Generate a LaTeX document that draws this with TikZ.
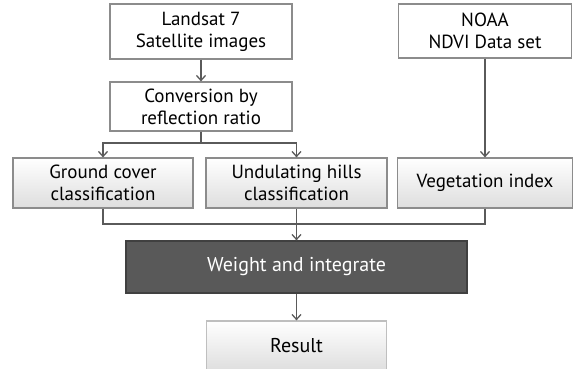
\documentclass[tikz,border=0pt]{standalone}
\usepackage{fontspec}
\setmainfont{PT Sans}
\usetikzlibrary{arrows.meta}
\definecolor{edgegrey}{HTML}{8C8C8C}
\definecolor{linegrey}{HTML}{5A5A5A}
\definecolor{darkgrey}{HTML}{595959}
\tikzset{
  x = 1pt, % one unit = one pixel of the page
  y = 1pt,
  box/.style = { % plain source box
    rectangle,
    draw = #1, % argument = edge colour
    fill = white,
    line width = 1.2pt,
    align = center,
    inner sep = 0pt, % size set by minimum width/height
    font = \fontsize{19}{22}\selectfont,
  },
  shadebox/.style = { % box with a light grey fade
    box = #1,
    top color = white,
    bottom color = black!13,
  },
  flow/.style = { % connector line
    draw = linegrey,
    line width = 1.5pt,
  },
  tip/.style = { % connector with open head
    flow,
    -{Straight Barb[length=5pt,width=9pt,line width=1.3pt]},
  },
}

\begin{document}
\begin{tikzpicture}
    \useasboundingbox (0,0) rectangle (578,-368); % page frame
    % source boxes
    \node[box=edgegrey, minimum width=182pt, minimum height=55pt] (land) at (201,-31.5) {Landsat 7\\Satellite images};
    \node[box=edgegrey, minimum width=182pt, minimum height=49pt] (conv) at (201,-106.5) {Conversion by\\reflection ratio};
    \node[box=edgegrey, minimum width=173pt, minimum height=54pt] (noaa) at (485,-31) {NOAA\\NDVI Data set};
    % middle row
    \node[shadebox=edgegrey, minimum width=180pt, minimum height=50pt] (ground) at (103,-183) {Ground cover\\classification};
    \node[shadebox=edgegrey, minimum width=181pt, minimum height=50pt] (hills) at (296.5,-183) {Undulating hills\\classification};
    \node[shadebox=edgegrey, minimum width=175pt, minimum height=50pt] (veg) at (485,-183) {Vegetation index};
    % bottom
    \node[box=black!75, fill=darkgrey, text=white, font=\fontsize{20}{22}\selectfont, minimum width=341pt, minimum height=52pt] (weight) at (296.5,-267) {Weight and integrate};
    \node[shadebox=black!25, font=\fontsize{20}{22}\selectfont, minimum width=180pt, minimum height=50pt] (result) at (296.5,-346) {Result};
    % connectors
    \coordinate (split) at (201,-143); % branch point
    \coordinate (merge) at (296.5,-224); % join point
    \draw[tip] (land) -- (conv);
    \draw[flow] (conv) -- (split);
    \draw[tip] (split) -| (ground);
    \draw[tip] (split) -| (hills);
    \draw[tip] (noaa) -- (veg);
    \draw[flow] (ground) |- (merge);
    \draw[flow] (veg) |- (merge);
    \draw[tip] (hills) -- (weight);
    \draw[tip] (weight) -- (result);
\end{tikzpicture}
\end{document}
